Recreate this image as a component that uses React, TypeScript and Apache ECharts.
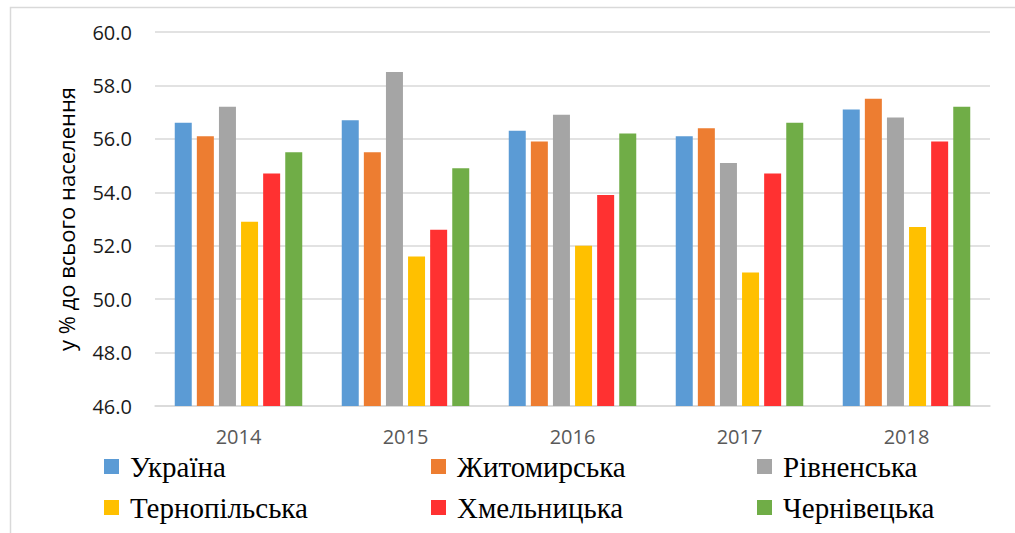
import React, { useEffect, useRef } from "react";
import * as echarts from "echarts";

const years = ["2014", "2015", "2016", "2017", "2018"];
const seriesNames = ["Україна", "Житомирська", "Рівненська", "Тернопільська", "Хмельницька", "Чернівецька"];
const ukraine = [56.6, 56.7, 56.3, 56.1, 57.1];
const zhytomyr = [56.1, 55.5, 55.9, 56.4, 57.5];
const rivne = [57.2, 58.5, 56.9, 55.1, 56.8];
const ternopil = [52.9, 51.6, 52.0, 51.0, 52.7];
const khmelnytskyi = [54.7, 52.6, 53.9, 54.7, 55.9];
const chernivtsi = [55.5, 54.9, 56.2, 56.6, 57.2];
const colors = ["#5B9BD5", "#ED7D31", "#A5A5A5", "#FFC000", "#FF3131", "#70AD47"];
const yAxisTitle = "у % до всього населення";

const allValues = [ukraine, zhytomyr, rivne, ternopil, khmelnytskyi, chernivtsi];

export default function App() {
  const ref = useRef<HTMLDivElement>(null);
  useEffect(() => {
    if (!ref.current) return;
    const chart = echarts.init(ref.current, null, { renderer: "svg" });
    const legendPos = [
      { left: 104, top: 452 },
      { left: 431, top: 452 },
      { left: 757, top: 452 },
      { left: 104, top: 493 },
      { left: 431, top: 493 },
      { left: 757, top: 493 },
    ];
    chart.setOption({
      animation: false,
      backgroundColor: "#ffffff",
      grid: { left: 155, top: 32, width: 835, height: 374, containLabel: false },
      graphic: [
        {
          type: "rect",
          left: 8,
          top: 5,
          shape: { width: 1100, height: 600 },
          style: { fill: "none", stroke: "#d9d9d9", lineWidth: 1.5 },
          silent: true,
        },
      ],
      legend: seriesNames.map((n, i) => ({
        data: [n],
        left: legendPos[i].left,
        top: legendPos[i].top,
        padding: 0,
        itemWidth: 15,
        itemHeight: 15,
        icon: "rect",
        itemGap: 0,
        textStyle: {
          fontFamily: "'Liberation Serif', 'Times New Roman', serif",
          fontSize: 29,
          lineHeight: 20,
          color: "#000000",
          padding: [0, 0, 0, 6],
        },
      })),
      xAxis: {
        type: "category",
        data: years,
        axisLine: { show: true, lineStyle: { color: "#d9d9d9", width: 1.5 } },
        axisTick: { show: false },
        axisLabel: {
          color: "#595959",
          fontFamily: "Open Sans",
          fontSize: 20,
          lineHeight: 18,
          margin: 21,
        },
      },
      yAxis: {
        type: "value",
        min: 46,
        max: 60,
        interval: 2,
        name: yAxisTitle,
        nameLocation: "middle",
        nameGap: 78,
        nameTextStyle: {
          fontFamily: "Open Sans",
          fontSize: 22,
          color: "#000000",
        },
        axisLine: { show: false },
        axisTick: { show: false },
        splitLine: { lineStyle: { color: "#d9d9d9", width: 1.5 } },
        axisLabel: {
          formatter: (v: number) => v.toFixed(1),
          color: "#1a1a1a",
          fontFamily: "Open Sans",
          fontSize: 20,
          margin: 23,
        },
      },
      series: seriesNames.map((n, i) => ({
        name: n,
        type: "bar",
        data: allValues[i],
        barWidth: 17,
        barGap: "30%",
        itemStyle: { color: colors[i] },
      })),
    });
    return () => chart.dispose();
  }, []);
  return (
    <div
      ref={ref}
      style={{ position: "fixed", left: 0, top: 0, width: 1015, height: 533 }}
    />
  );
}
